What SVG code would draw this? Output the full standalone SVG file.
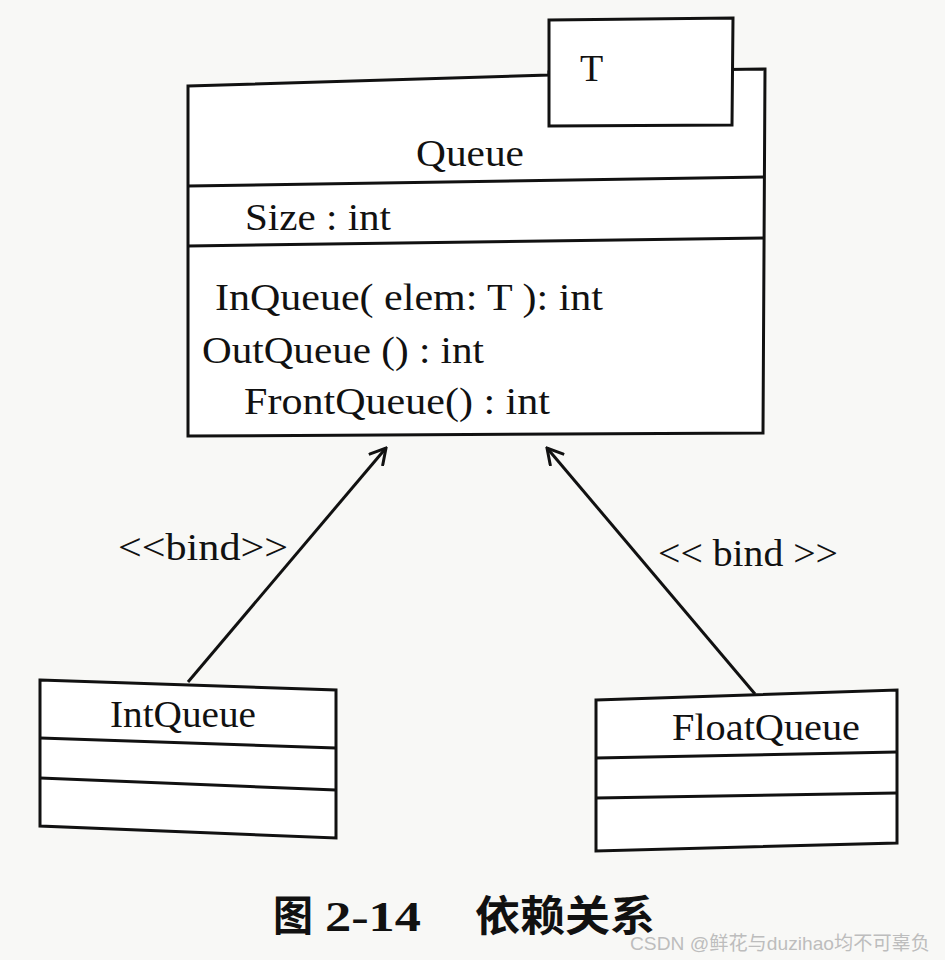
<svg xmlns="http://www.w3.org/2000/svg" width="945" height="960" viewBox="0 0 945 960">
<style>
.box{fill:#fff;stroke:#111;stroke-width:3;stroke-linejoin:miter}
.ln{stroke:#111;stroke-width:3;fill:none}
.t{font-family:"Liberation Serif","Times New Roman",serif;font-size:38px;fill:#111}
.cap{font-family:"Liberation Serif","Noto Sans CJK SC",serif;font-size:42px;font-weight:bold;fill:#111}
.wm{font-family:"Liberation Sans","Noto Sans CJK SC",sans-serif;font-size:19px;fill:#bdbdbd}
</style>
<defs>
<marker id="open" viewBox="0 0 20 20" refX="18" refY="10" markerWidth="20" markerHeight="20" markerUnits="userSpaceOnUse" orient="auto">
<path d="M2,1 L18,10 L2,19" fill="none" stroke="#111" stroke-width="3"/>
</marker>
</defs>
<rect width="945" height="960" fill="#f8f8f6"/>
<g id="Queue">
<polygon class="box" points="188,86 549,75 549,72 765,69 763,433 188,436"/>
<polyline class="ln" points="188,186 765,177"/>
<polyline class="ln" points="188,246 765,238"/>
<text class="t" x="416" y="166" textLength="108" lengthAdjust="spacingAndGlyphs">Queue</text>
<text class="t" x="245" y="230" textLength="146" lengthAdjust="spacingAndGlyphs">Size : int</text>
<text class="t" x="215" y="310" textLength="388" lengthAdjust="spacingAndGlyphs">InQueue( elem: T ): int</text>
<text class="t" x="202" y="363" textLength="282" lengthAdjust="spacingAndGlyphs">OutQueue () : int</text>
<text class="t" x="244" y="414" textLength="306" lengthAdjust="spacingAndGlyphs">FrontQueue() : int</text>
</g>
<g id="T">
<polygon class="box" points="549,20 733,18 732,125 549,126"/>
<text class="t" x="580" y="81">T</text>
</g>
<g id="IntQueue">
<polygon class="box" points="40,680 336,690 336,838 40,826"/>
<polyline class="ln" points="40,738 336,748"/>
<polyline class="ln" points="40,778 336,790"/>
<text class="t" x="110" y="727" textLength="146" lengthAdjust="spacingAndGlyphs">IntQueue</text>
</g>
<g id="FloatQueue">
<polygon class="box" points="596,700 897,690 897,843 596,851"/>
<polyline class="ln" points="596,758 897,752"/>
<polyline class="ln" points="596,798 897,793"/>
<text class="t" x="672" y="740" textLength="188" lengthAdjust="spacingAndGlyphs">FloatQueue</text>
</g>
<g id="connectors">
<line class="ln" x1="188" y1="682" x2="386" y2="448" marker-end="url(#open)"/>
<line class="ln" x1="755" y1="694" x2="547" y2="448" marker-end="url(#open)"/>
<text class="t" x="118" y="560" textLength="170" lengthAdjust="spacingAndGlyphs">&lt;&lt;bind&gt;&gt;</text>
<text class="t" x="658" y="566" textLength="180" lengthAdjust="spacingAndGlyphs">&lt;&lt; bind &gt;&gt;</text>
</g>
<g id="caption">
<text class="cap" x="273" y="931" textLength="40" lengthAdjust="spacingAndGlyphs">图</text>
<text class="cap" x="325" y="931" textLength="96" lengthAdjust="spacingAndGlyphs">2-14</text>
<text class="cap" x="475" y="931" textLength="180" lengthAdjust="spacingAndGlyphs">依赖关系</text>
<text class="wm" x="630" y="950" textLength="300" lengthAdjust="spacingAndGlyphs">CSDN @鲜花与duzihao均不可辜负</text>
</g>
</svg>
